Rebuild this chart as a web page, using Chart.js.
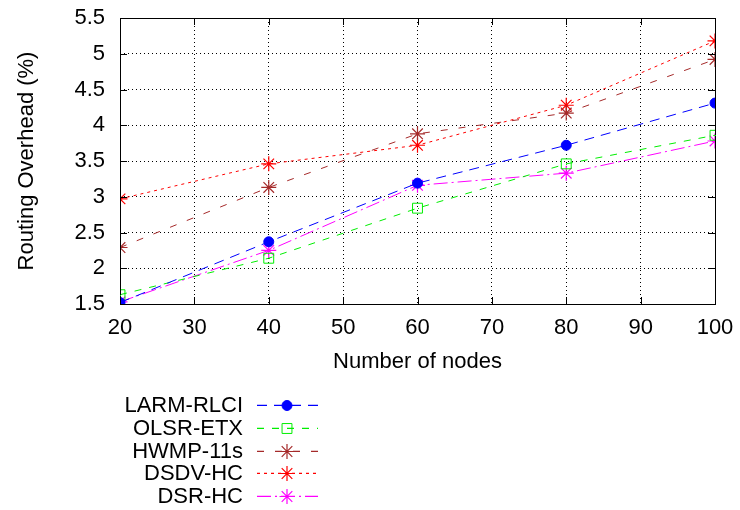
<!DOCTYPE html>
<html>
<head>
<meta charset="utf-8">
<script src="https://cdn.jsdelivr.net/npm/chart.js@4/dist/chart.umd.min.js"></script>
<style>
  html, body { margin: 0; padding: 0; background: #fff; }
  #wrap { width: 740px; height: 510px; position: relative; }
</style>
</head>
<body>
<div id="wrap"><canvas id="c" width="740" height="510"></canvas></div>
<script>
const nodes = [20, 40, 60, 80, 100];
const larmRlci = [1.52, 2.37, 3.19, 3.72, 4.31];
const olsrEtx  = [1.63, 2.14, 2.84, 3.46, 3.86];
const hwmp11s  = [2.29, 3.13, 3.88, 4.17, 4.92];
const dsdvHc   = [2.97, 3.46, 3.72, 4.28, 5.18];
const dsrHc    = [1.53, 2.25, 3.16, 3.33, 3.78];
const seriesNames = ['LARM-RLCI', 'OLSR-ETX', 'HWMP-11s', 'DSDV-HC', 'DSR-HC'];
const xTicks = [20, 30, 40, 50, 60, 70, 80, 90, 100];
const yTicks = [1.5, 2, 2.5, 3, 3.5, 4, 4.5, 5, 5.5];

const FONT = "'Liberation Sans', Arial, Helvetica, sans-serif";
const FS = 22;

function pts(arr) { return nodes.map((x, i) => ({ x: x, y: arr[i] })); }

const datasets = [
  { label: seriesNames[0], data: pts(larmRlci), borderColor: '#0000ff', backgroundColor: '#0000ff',
    borderDash: [10, 7], pointStyle: 'circle', pointRadius: 5, pointBorderWidth: 1, borderWidth: 1 },
  { label: seriesNames[1], data: pts(olsrEtx), borderColor: '#00ee00', backgroundColor: 'rgba(0,0,0,0)',
    borderDash: [7, 8], pointStyle: 'rect', pointRadius: 7, pointBorderWidth: 1, borderWidth: 1 },
  { label: seriesNames[2], data: pts(hwmp11s), borderColor: '#a52a2a', backgroundColor: '#a52a2a',
    borderDash: [7, 11], pointStyle: 'star', pointRadius: 7.5, pointBorderWidth: 1.2, borderWidth: 1 },
  { label: seriesNames[3], data: pts(dsdvHc), borderColor: '#ff0000', backgroundColor: '#ff0000',
    borderDash: [3, 4], pointStyle: 'star', pointRadius: 7.5, pointBorderWidth: 1.2, borderWidth: 1 },
  { label: seriesNames[4], data: pts(dsrHc), borderColor: '#ff00ff', backgroundColor: '#ff00ff',
    borderDash: [14, 4, 2, 4], pointStyle: 'star', pointRadius: 7.5, pointBorderWidth: 1.2, borderWidth: 1 }
];

const framePlugin = {
  id: 'frame',
  afterDatasetsDraw(chart) {
    const ctx = chart.ctx, a = chart.chartArea;
    const xs = chart.scales.x, ys = chart.scales.y;
    ctx.save();
    ctx.strokeStyle = '#000';
    ctx.lineWidth = 1;
    ctx.setLineDash([]);
    ctx.strokeRect(Math.round(a.left) + 0.5, Math.round(a.top) + 0.5,
                   Math.round(a.right - a.left), Math.round(a.bottom - a.top));
    ctx.beginPath();
    xTicks.forEach(v => {
      const px = Math.round(xs.getPixelForValue(v)) + 0.5;
      ctx.moveTo(px, a.bottom); ctx.lineTo(px, a.bottom - 7);
      ctx.moveTo(px, a.top); ctx.lineTo(px, a.top + 7);
    });
    yTicks.forEach(v => {
      const py = Math.round(ys.getPixelForValue(v)) + 0.5;
      ctx.moveTo(a.left, py); ctx.lineTo(a.left + 7, py);
      ctx.moveTo(a.right, py); ctx.lineTo(a.right - 7, py);
    });
    ctx.stroke();
    const meta = chart.getDatasetMeta(1);
    ctx.fillStyle = '#00ee00';
    meta.data.forEach(p => { ctx.fillRect(Math.round(p.x), Math.round(p.y), 1, 1); });
    ctx.restore();
  }
};

const legendPlugin = {
  id: 'customLegend',
  afterDraw(chart) {
    const ctx = chart.ctx;
    const textRight = 243, lineL = 257, lineR = 318, mark = 287;
    const rowsY = [405, 428, 451, 473, 496];
    chart.data.datasets.forEach((ds, i) => {
      const y = rowsY[i];
      ctx.save();
      ctx.font = FS + 'px ' + FONT;
      ctx.fillStyle = '#000';
      ctx.textAlign = 'right';
      ctx.textBaseline = 'middle';
      ctx.fillText(ds.label, textRight, y + 1);
      ctx.restore();
      ctx.save();
      ctx.strokeStyle = ds.borderColor;
      ctx.lineWidth = 1.3;
      ctx.setLineDash(ds.borderDash.slice());
      ctx.beginPath();
      ctx.moveTo(lineL, y + 0.3);
      ctx.lineTo(lineR, y + 0.3);
      ctx.stroke();
      ctx.restore();
      ctx.save();
      ctx.strokeStyle = ds.borderColor;
      ctx.fillStyle = ds.backgroundColor;
      ctx.lineWidth = ds.pointBorderWidth;
      ctx.setLineDash([]);
      Chart.helpers.drawPoint(ctx, { pointStyle: ds.pointStyle, radius: ds.pointRadius, borderWidth: ds.pointBorderWidth, rotation: 0 }, mark, y + 0.5);
      if (ds.pointStyle === 'rect') {
        ctx.fillStyle = ds.borderColor;
        ctx.fillRect(mark, y, 1, 1);
      }
      ctx.restore();
    });
  }
};

new Chart(document.getElementById('c'), {
  type: 'line',
  data: { datasets: datasets },
  plugins: [framePlugin, legendPlugin],
  options: {
    responsive: false,
    animation: false,
    devicePixelRatio: 1,
    layout: { padding: { left: 0, right: 25, top: 18, bottom: 131 } },
    plugins: { legend: { display: false }, tooltip: { enabled: false } },
    elements: { line: { tension: 0, fill: false } },
    scales: {
      x: {
        type: 'linear', min: 20, max: 100,
        afterBuildTicks: s => { s.ticks = xTicks.map(v => ({ value: v })); },
        afterFit: s => { s.height = 75; s.paddingLeft = 0; s.paddingRight = 0; },
        grid: { color: '#000', lineWidth: 1, drawTicks: false },
        border: { display: false, dash: [1, 3] },
        ticks: { color: '#000', font: { family: FONT, size: FS }, padding: 11, maxRotation: 0,
                 callback: v => String(v) },
        title: { display: true, text: 'Number of nodes', color: '#000', font: { family: FONT, size: FS }, padding: { top: 0, bottom: 4 } }
      },
      y: {
        type: 'linear', min: 1.5, max: 5.5,
        afterBuildTicks: s => { s.ticks = yTicks.map(v => ({ value: v })); },
        afterFit: s => { s.width = 120; s.paddingTop = 0; s.paddingBottom = 0; },
        grid: { color: '#000', lineWidth: 1, drawTicks: false },
        border: { display: false, dash: [1, 3] },
        ticks: { color: '#000', font: { family: FONT, size: FS }, padding: 15, callback: v => String(v) },
        title: { display: true, text: 'Routing Overhead (%)', color: '#000', font: { family: FONT, size: FS }, padding: { top: 14, bottom: 0 } }
      }
    }
  }
});
</script>
</body>
</html>
